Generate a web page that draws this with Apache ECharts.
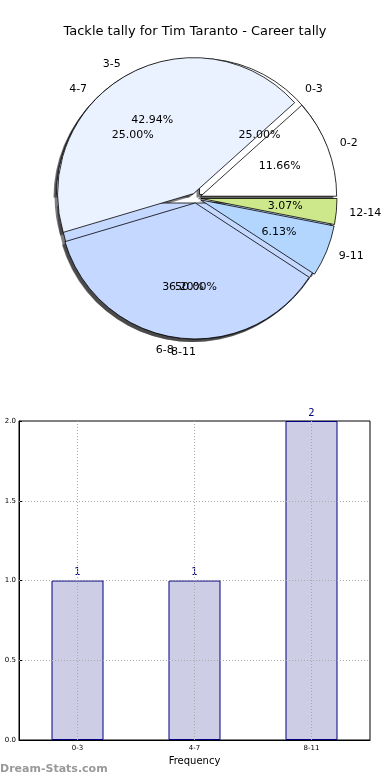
<!DOCTYPE html>
<html><head><meta charset="utf-8">
<script src="https://cdn.jsdelivr.net/npm/echarts@6/dist/echarts.min.js"></script>
<style>html,body{margin:0;padding:0;background:#fff}#c{width:390px;height:780px}</style>
</head><body><div id="c"></div>
<script>
const pieTallyCats = ['0-2','3-5','6-8','9-11','12-14'];
const pieTallyVals = [11.66, 42.94, 36.20, 6.13, 3.07];
const pieFreqCats = ['0-3','4-7','8-11'];
const pieFreqVals = [1, 1, 2];
const barCats = ['0-3','4-7','8-11'];
const barVals = [1, 1, 2];
const yTicks = ['0.0','0.5','1.0','1.5','2.0'];
const yGridVals = [0.5, 1.0, 1.5];

const pieColors = ['#ffffff','#ebf2ff','#c5d8ff','#b3d6ff','#cce88a'];
const C = [196, 198], R = 136, OFF = 5;
const font = 'DejaVu Sans';

function mk(cats, vals){ return cats.map((n,i)=>({name:n, value:vals[i], selected:true,
  itemStyle:{color:pieColors[i % pieColors.length]}})); }

function baseSeries(cats, vals, z){
  return {
    type:'pie', center:C, radius:[0,R], startAngle:0, clockwise:false, z:z,
    selectedMode:'multiple', selectedOffset:OFF, avoidLabelOverlap:false, animation:false,
    labelLayout:{hideOverlap:false},
    data: mk(cats, vals),
    itemStyle:{borderColor:'#000', borderWidth:0.8},
    emphasis:{disabled:true},
    label:{show:true, position:'outside', formatter:'{b}', fontFamily:font, fontSize:11, color:'#000', distanceToLabelLine:0},
    labelLine:{show:false, length:13, length2:0}
  };
}
function shadowSeries(cats, vals, z){
  return {
    type:'pie', center:[C[0]-3, C[1]+3], radius:[0,R], startAngle:0, clockwise:false, z:z, silent:true,
    selectedMode:'multiple', selectedOffset:OFF, animation:false,
    data: cats.map((n,i)=>({name:n, value:vals[i], selected:true})),
    itemStyle:{color:'rgba(40,40,40,0.6)'}, label:{show:false}, labelLine:{show:false}
  };
}
function pctSeries(cats, vals, z){
  const tot = vals.reduce((a,b)=>a+b,0);
  return {
    type:'pie', center:C, radius:[0,R*1.2], startAngle:0, clockwise:false, z:z, silent:true,
    selectedMode:'multiple', selectedOffset:OFF, animation:false, avoidLabelOverlap:false,
    labelLayout:{hideOverlap:false},
    data: cats.map((n,i)=>({name:n, value:vals[i], selected:true})),
    itemStyle:{color:'rgba(0,0,0,0)'},
    label:{show:true, position:'inside', rotate:0, fontFamily:font, fontSize:11, color:'#000',
      formatter:p=>(p.value/tot*100).toFixed(2)+'%'},
    labelLine:{show:false}
  };
}

const gridLine = {color:'#a8a8a8', type:[1,2], width:1};
const chart = echarts.init(document.getElementById('c'), null, {renderer:'canvas'});
chart.setOption({
  animation:false,
  title:{text:'Tackle tally for Tim Taranto - Career tally', left:'center', top:20,
    textStyle:{fontFamily:font, fontSize:13, fontWeight:'normal', color:'#000'}},
  grid:{left:19, right:20, top:421, bottom:40, show:true, borderColor:'#000', borderWidth:1, backgroundColor:'#fff'},
  xAxis:{type:'category', data:barCats,
    axisLine:{lineStyle:{color:'#000'}}, axisTick:{show:false},
    axisLabel:{fontFamily:font, fontSize:7, color:'#000', margin:5},
    splitLine:{show:false},
    name:'Frequency', nameLocation:'middle', nameGap:16, nameTextStyle:{fontFamily:font, fontSize:10, color:'#000'}},
  yAxis:{type:'value', min:0, max:2, interval:0.5,
    axisLine:{show:true, lineStyle:{color:'#000'}}, axisTick:{show:true, inside:true, length:3, lineStyle:{color:'#000'}},
    axisLabel:{fontFamily:font, fontSize:7, color:'#000', margin:3, formatter:v=>yTicks[Math.round(v/0.5)]},
    splitLine:{show:false}},
  graphic:[{type:'text', left:0, top:764, style:{text:'Dream-Stats.com', font:'bold 11px "DejaVu Sans"', fill:'#999'}}],
  series:[
    shadowSeries(pieFreqCats, pieFreqVals, 1),
    shadowSeries(pieTallyCats, pieTallyVals, 1),
    baseSeries(pieFreqCats, pieFreqVals, 2),
    baseSeries(pieTallyCats, pieTallyVals, 3),
    pctSeries(pieFreqCats, pieFreqVals, 4),
    pctSeries(pieTallyCats, pieTallyVals, 4),
    {type:'bar', data:barVals, barWidth:52, z:2,
      itemStyle:{color:'#cdcde6', borderColor:'#000080', borderWidth:1},
      label:{show:true, position:'top', distance:3, fontFamily:font, fontSize:10, color:'#000080'},
      markLine:{silent:true, symbol:'none', animation:false, label:{show:false}, lineStyle:gridLine, z:5,
        data: barCats.map(c=>({xAxis:c})).concat(yGridVals.map(v=>({yAxis:v})))}}
  ]
});
</script></body></html>
